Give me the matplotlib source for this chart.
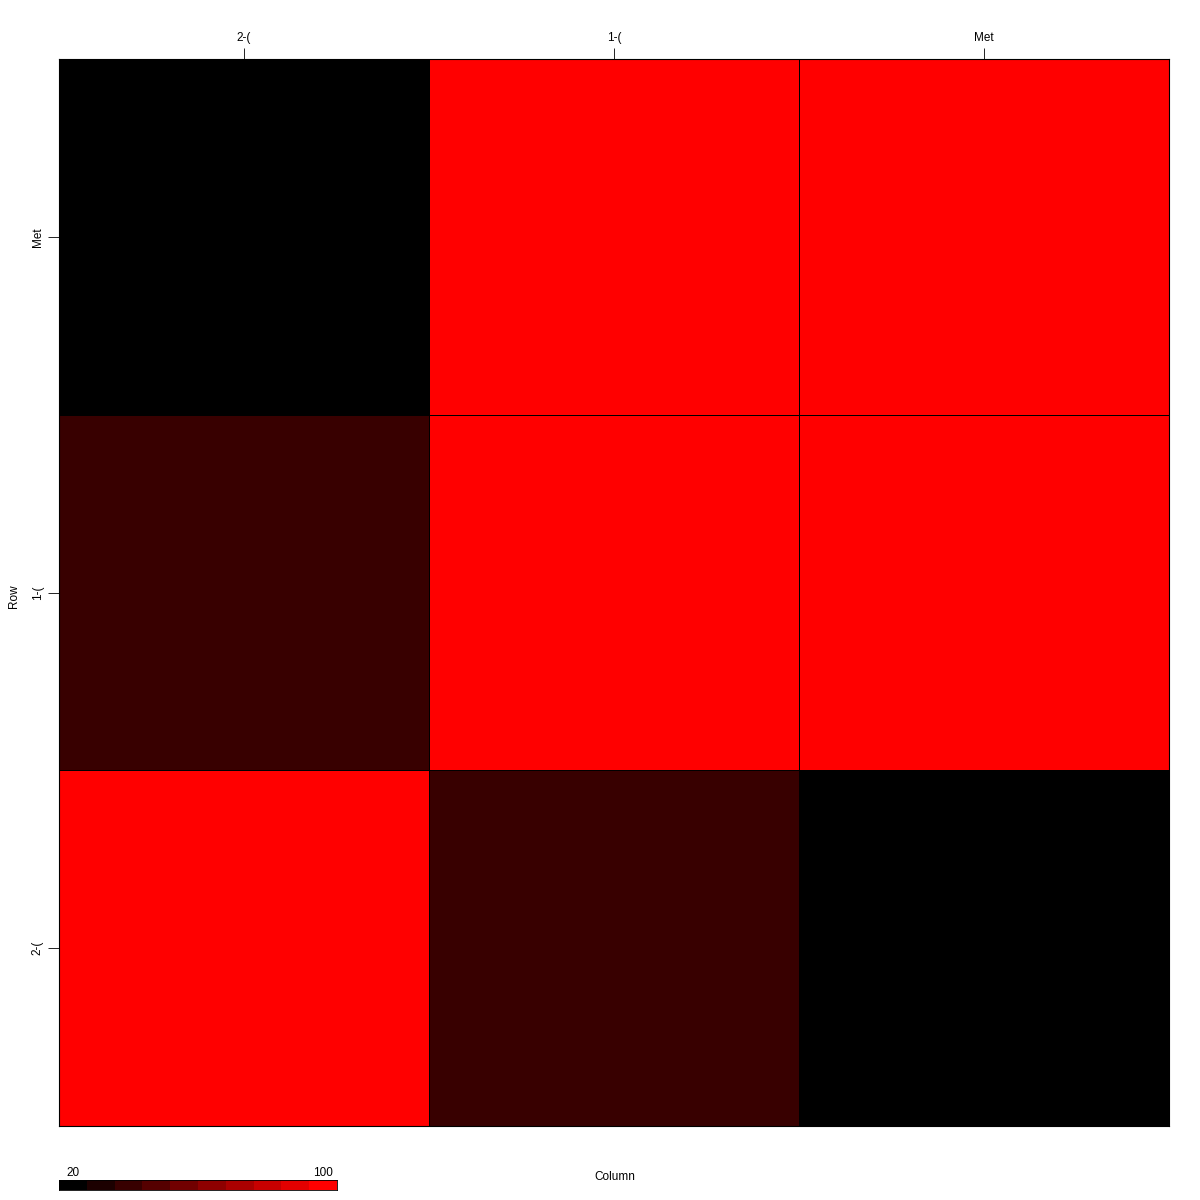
import numpy as np
import matplotlib
matplotlib.use("Agg")
import matplotlib.pyplot as plt
from matplotlib.colors import LinearSegmentedColormap, BoundaryNorm, ListedColormap

plt.rcParams['font.family'] = ['Liberation Sans', 'DejaVu Sans']

col_labels = ["2-(", "1-(", "Met"]
row_labels = ["Met", "1-(", "2-("]  # top to bottom
values = [
    [20, 100, 100],
    [42, 100, 100],
    [100, 42, 20],
]
vmin, vmax, nbins = 20, 100, 10

ramp = LinearSegmentedColormap.from_list("br", ["#000000", "#FF0000"])
colors = [ramp(i / (nbins - 1)) for i in range(nbins)]
cmap = ListedColormap(colors)
bounds = np.linspace(vmin, vmax, nbins + 1)
norm = BoundaryNorm(bounds, nbins)

fig = plt.figure(figsize=(12, 12), dpi=100)
W = H = 1200.0
ax = fig.add_axes([59 / W, 1 - 1126 / H, (1169 - 59) / W, (1126 - 59) / H])
data = np.array(values, dtype=float)[::-1]  # bottom row first
ax.pcolormesh(np.arange(4), np.arange(4), data, cmap=cmap, norm=norm,
              edgecolors="black", linewidth=0.6)
ax.set_xlim(0, 3)
ax.set_ylim(0, 3)
ax.xaxis.tick_top()
ax.set_xticks(np.arange(3) + 0.5)
ax.set_xticklabels(col_labels, fontsize=8.5)
ax.set_yticks(np.arange(3) + 0.5)
ax.set_yticklabels(row_labels[::-1], fontsize=8.5, rotation=90, va="center")
ax.tick_params(length=8, width=0.6, pad=3)
for s in ax.spines.values():
    s.set_linewidth(0.8)

fig.text(8 / W, 1 - 596 / H, "Row", rotation=90, fontsize=8.5, ha="left", va="center")
fig.text(615 / W, 1 - 1177 / H, "Column", fontsize=8.5, ha="center", va="center")

# colour key
cax = fig.add_axes([59 / W, 1 - 1190 / H, (337 - 59) / W, 10 / H])
cax.pcolormesh(bounds, [0, 1], ((bounds[:-1] + bounds[1:]) / 2)[None, :], cmap=cmap, norm=norm)
cax.set_xlim(vmin, vmax)
cax.set_xticks([]); cax.set_yticks([])
for s in cax.spines.values():
    s.set_linewidth(0.6)
fig.text((59 + 14) / W, 1 - 1173 / H, str(vmin), fontsize=8.5, ha="center", va="center")
fig.text((337 - 14) / W, 1 - 1173 / H, str(vmax), fontsize=8.5, ha="center", va="center")

fig.savefig("out.png", dpi=100)
